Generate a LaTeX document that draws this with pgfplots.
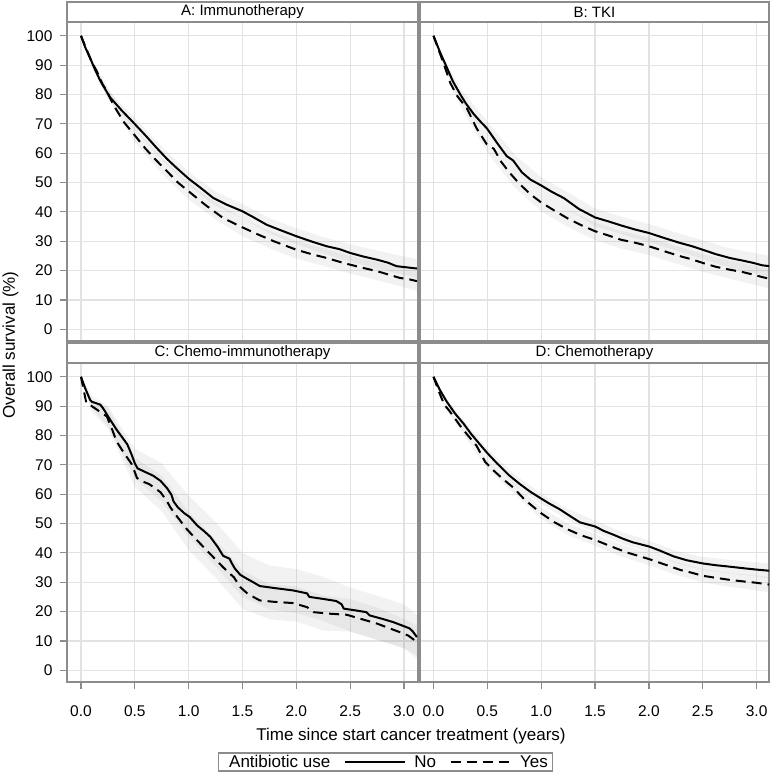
\documentclass[border=0pt]{standalone}
\usepackage{fontspec}
\setmainfont{Liberation Sans}
\usepackage{pgfplots}
\pgfplotsset{compat=1.18}
\definecolor{framec}{HTML}{8C8C8C}
\definecolor{gridc}{HTML}{E2E2E2}
\definecolor{bandc}{HTML}{808080}
\pgfplotsset{
  km/.style={
    scale only axis, height=319pt,
    xmin=-0.13, xmax=3.13, ymin=-4, ymax=104.7,
    xtick={0,0.5,1,1.5,2,2.5,3}, ytick={0,10,20,30,40,50,60,70,80,90,100},
    grid=major, grid style={gridc, line width=1.2pt},
    axis line style={framec, line width=1.2pt},
    tick style={framec, line width=1.2pt},
    tick align=outside, major tick length=7pt,
    xtick pos=bottom, ytick pos=left,
    /pgf/number format/assume math mode=true,
    tick label style={font=\fontsize{15.5}{17}\selectfont},
    xticklabel style={yshift=-13pt, /pgf/number format/fixed, /pgf/number format/fixed zerofill, /pgf/number format/precision=1},
    yticklabel style={xshift=-4pt},
    clip=true,
  },
  band/.style={fill=bandc, fill opacity=0.1, draw=none, forget plot},
  noab/.style={black, line width=2pt, line join=round},
  yesab/.style={black, line width=2pt, line join=round, dash pattern=on 10pt off 6pt},
}
\begin{document}
\begin{tikzpicture}[x=1pt,y=1pt]
\useasboundingbox (0,0) rectangle (771,774);

% ---------------- A: Immunotherapy ----------------
\begin{axis}[km, width=351pt, at={(67pt,433pt)}, anchor=south west,
  xmajorticks=false, xticklabels={}]
\addplot[band] coordinates {(0,100)(0.1,91.5)(0.25,81.5)(0.5,72)(0.75,62.2)(1.0,53.6)(1.25,46.9)(1.5,42.7)(1.75,37.9)(2.0,34.4)(2.25,31.4)(2.5,29)(2.75,26.8)(3.12,23.9)
 (3.12,17.5)(2.75,20.6)(2.5,23)(2.25,25.8)(2.0,29)(1.75,32.7)(1.5,37.7)(1.25,42.1)(1.0,49)(0.75,57.8)(0.5,68)(0.25,78.5)(0.1,89.5)(0,100)} -- cycle;
\addplot[band] coordinates {(0,100)(0.1,92)(0.25,82.3)(0.5,68.3)(0.75,58.3)(1.0,49.8)(1.25,43.2)(1.5,37.7)(1.75,33.6)(2.0,30.1)(2.25,27.6)(2.5,25)(2.75,22.9)(3.12,19.7)
 (3.12,13.1)(2.75,16.7)(2.5,19)(2.25,21.6)(2.0,24.1)(1.75,27.6)(1.5,31.7)(1.25,37.4)(1.0,44.2)(0.75,53.1)(0.5,63.7)(0.25,78.7)(0.1,90)(0,100)} -- cycle;
\addplot[noab] coordinates {(0,100)(0.04,96)(0.084,92.5)(0.13,88.5)(0.18,84.6)(0.27,79)(0.38,74.5)(0.49,70.3)(0.6,66)(0.705,61.7)(0.8,58)(0.89,54.9)(1.0,51.3)(1.1,48.5)(1.23,44.7)(1.35,42.5)(1.5,40.2)(1.6,38.2)(1.725,35.6)(1.85,33.8)(2.0,31.7)(2.15,29.8)(2.28,28.3)(2.4,27.3)(2.5,26.0)(2.62,24.8)(2.75,23.7)(2.85,22.7)(2.93,21.5)(3.0,21.2)(3.12,20.7)};
\addplot[yesab] coordinates {(0,100)(0.05,95.5)(0.1,91)(0.146,88)(0.2,83.5)(0.24,81.2)(0.3,76.5)(0.4,70.5)(0.49,66.5)(0.6,61.5)(0.7,57.5)(0.8,53.8)(0.9,50)(1.0,47.0)(1.15,42.5)(1.32,37.9)(1.5,34.7)(1.65,32.2)(1.79,30.0)(2.0,27.1)(2.15,25.5)(2.28,24.3)(2.4,23)(2.5,22.0)(2.62,20.9)(2.75,19.8)(2.85,18.7)(2.96,17.5)(3.05,17)(3.12,16.4)};
\end{axis}

% ---------------- B: TKI ----------------
\begin{axis}[km, width=349pt, at={(420pt,433pt)}, anchor=south west, xmin=-0.125, xmax=3.115,
  xmajorticks=false, xticklabels={}, ymajorticks=false, yticklabels={}]
\addplot[band] coordinates {(0,100)(0.1,92)(0.25,82)(0.5,70.8)(0.75,59.7)(1.0,51.8)(1.25,46.6)(1.5,41.1)(1.75,38.3)(2.0,35.9)(2.25,33)(2.5,30.3)(2.75,27.6)(3.12,25)
 (3.12,18)(2.75,21)(2.5,23.9)(2.25,26.8)(2.0,29.7)(1.75,32.3)(1.5,35.1)(1.25,40.8)(1.0,46.2)(0.75,54.3)(0.5,65.8)(0.25,78)(0.1,90)(0,100)} -- cycle;
\addplot[band] coordinates {(0,100)(0.1,91)(0.25,80)(0.5,65.4)(0.75,54.5)(1.0,46.2)(1.25,40.8)(1.5,36.4)(1.75,33.4)(2.0,31.3)(2.25,28.4)(2.5,25.6)(2.75,23.4)(3.12,20.5)
 (3.12,13.9)(2.75,17.2)(2.5,19.6)(2.25,22.4)(2.0,25.3)(1.75,27.4)(1.5,30.4)(1.25,34.8)(1.0,40.2)(0.75,48.5)(0.5,60.2)(0.25,76)(0.1,89)(0,100)} -- cycle;
\addplot[noab] coordinates {(0,100)(0.06,94.5)(0.124,89.2)(0.18,84.5)(0.248,80.1)(0.3,77)(0.37,73.5)(0.43,71)(0.495,68.5)(0.6,63)(0.68,59)(0.74,57.5)(0.82,53.5)(0.9,51)(1.0,49)(1.1,46.8)(1.21,44.7)(1.35,41)(1.5,38.1)(1.62,36.8)(1.74,35.4)(1.87,34)(2.0,32.8)(2.15,31)(2.29,29.4)(2.4,28.3)(2.5,27.1)(2.62,25.6)(2.75,24.3)(2.87,23.4)(2.97,22.6)(3.05,21.8)(3.12,21.5)};
\addplot[yesab] coordinates {(0,100)(0.06,94)(0.1,90)(0.155,84)(0.22,79.5)(0.31,75.3)(0.4,68.5)(0.495,63)(0.56,61.5)(0.63,57)(0.71,53.2)(0.8,49.5)(0.9,46)(1.0,43.2)(1.12,40.5)(1.24,37.9)(1.37,35.5)(1.5,33.4)(1.62,32)(1.74,30.5)(1.87,29.5)(2.0,28.3)(2.15,26.5)(2.29,24.9)(2.4,23.8)(2.5,22.6)(2.62,21.3)(2.75,20.3)(2.87,19.5)(2.97,18.6)(3.05,17.8)(3.12,17.2)};
\end{axis}

% ---------------- C: Chemo-immunotherapy ----------------
\begin{axis}[km, width=351pt, at={(67pt,92pt)}, anchor=south west,
  legend columns=3,
  legend image code/.code={\draw[#1] (0pt,0pt) -- (60pt,0pt);},
  legend style={at={(0.9074,-0.2508)}, anchor=center, draw=framec, line width=1.2pt,
    font=\fontsize{17}{19}\selectfont, inner xsep=3pt, inner ysep=0pt,
    /tikz/every odd column/.append style={column sep=6pt},
    /tikz/every even column/.append style={column sep=12pt}},
  ]
\addlegendimage{empty legend}
\addlegendentry{Antibiotic use\hspace{29pt}}
\addplot[band] coordinates {(0,100)(0.1,93.5)(0.25,90)(0.5,75.5)(0.75,70.5)(1.0,59.5)(1.25,50.5)(1.5,40)(1.75,35.7)(2.0,34.5)(2.25,31.8)(2.5,28.2)(2.75,25.4)(3.0,22.5)(3.12,18.8)
 (3.12,4)(3.0,7.5)(2.75,10.4)(2.5,13.2)(2.25,16.8)(2.0,19.5)(1.75,20.7)(1.5,25)(1.25,35.5)(1.0,45.5)(0.75,57.5)(0.5,65.5)(0.25,83)(0.1,89.5)(0,100)} -- cycle;
\addplot[band] coordinates {(0,100)(0.1,92)(0.25,89.5)(0.5,72.5)(0.75,66.2)(1.0,54)(1.25,44.5)(1.5,34)(1.75,29.4)(2.0,28.6)(2.25,25.5)(2.5,24.2)(2.75,21.4)(3.0,17.5)(3.12,15.2)
 (3.12,5.2)(3.0,7.5)(2.75,10.4)(2.5,13.2)(2.25,13.5)(2.0,16.6)(1.75,17.4)(1.5,21)(1.25,31.5)(1.0,41)(0.75,54.2)(0.5,62.5)(0.25,82.5)(0.1,88)(0,100)} -- cycle;
\addplot[noab] coordinates {(0,100)(0.04,96)(0.084,92.2)(0.1,91.5)(0.18,90.5)(0.21,89)(0.26,86)(0.33,82)(0.38,79.5)(0.43,77)(0.47,73.5)(0.5,70.5)(0.525,68.8)(0.6,67.5)(0.67,66.3)(0.74,64.5)(0.8,62)(0.84,59.8)(0.86,57.5)(0.9,55.5)(0.96,53.5)(1.01,52.2)(1.08,49.3)(1.14,47.5)(1.2,45.5)(1.27,42)(1.32,39)(1.38,38)(1.40,36.5)(1.43,34.6)(1.48,32.5)(1.54,31.2)(1.6,30)(1.66,28.7)(1.8,28)(1.97,27.2)(2.1,26.2)(2.12,25)(2.25,24.3)(2.37,23.6)(2.42,22.5)(2.44,21)(2.55,20.4)(2.65,19.8)(2.68,18.7)(2.8,17.5)(2.9,16.4)(3.0,15.0)(3.05,14.3)(3.08,13.3)(3.12,11.3)};
\addlegendentry{No}
\addplot[yesab] coordinates {(0,100)(0.05,91)(0.1,90)(0.18,88)(0.24,86.5)(0.29,82)(0.33,78)(0.4,74)(0.47,70.3)(0.5,67.5)(0.52,65.5)(0.58,64.2)(0.63,63.5)(0.69,62)(0.74,60.6)(0.8,57.5)(0.83,55.5)(0.9,52)(0.98,48.2)(1.06,45)(1.14,41.9)(1.23,38.5)(1.32,35.1)(1.38,33)(1.42,31.7)(1.48,28.3)(1.55,26)(1.66,23.8)(1.8,23.3)(1.97,22.9)(2.1,21.5)(2.16,19.8)(2.3,19.3)(2.47,18.9)(2.6,17.5)(2.75,15.9)(2.85,14.5)(2.96,13.0)(3.04,11.8)(3.10,10.2)(3.12,9.9)};
\addlegendentry{Yes\hspace{7pt}}
\end{axis}

% ---------------- D: Chemotherapy ----------------
\begin{axis}[km, width=349pt, at={(420pt,92pt)}, anchor=south west, xmin=-0.125, xmax=3.115,
  ymajorticks=false, yticklabels={}]
\addplot[band] coordinates {(0,100)(0.1,93.8)(0.25,86.5)(0.5,75.5)(0.75,66.7)(1.0,60.3)(1.25,54.9)(1.5,51)(1.75,47.1)(2.0,44.2)(2.25,40.7)(2.5,38.6)(2.75,37.6)(3.12,36.4)
 (3.12,31.4)(2.75,33)(2.5,34.2)(2.25,36.5)(2.0,40.2)(1.75,43.1)(1.5,47)(1.25,51.1)(1.0,56.7)(0.75,63.3)(0.5,72.5)(0.25,84.1)(0.1,92.2)(0,100)} -- cycle;
\addplot[band] coordinates {(0,100)(0.1,91.3)(0.25,84.5)(0.5,71.9)(0.75,63.8)(1.0,55.4)(1.25,50)(1.5,46.4)(1.75,42.7)(2.0,40)(2.25,36.9)(2.5,34.5)(2.75,33.2)(3.12,31.8)
 (3.12,26.6)(2.75,28.4)(2.5,29.9)(2.25,32.5)(2.0,35.8)(1.75,38.7)(1.5,42.4)(1.25,46)(1.0,51.6)(0.75,60.2)(0.5,68.7)(0.25,81.9)(0.1,89.7)(0,100)} -- cycle;
\addplot[noab] coordinates {(0,100)(0.06,95.5)(0.12,91.7)(0.2,87.5)(0.28,84)(0.35,80.5)(0.43,77)(0.5,74)(0.59,70.5)(0.7,66.5)(0.8,63.5)(0.9,60.8)(1.0,58.5)(1.08,56.7)(1.17,54.9)(1.27,52.5)(1.36,50.4)(1.5,49.0)(1.58,47.5)(1.67,46.2)(1.76,44.8)(1.85,43.6)(2.0,42.2)(2.1,40.8)(2.23,38.8)(2.35,37.5)(2.5,36.4)(2.62,35.8)(2.75,35.3)(2.87,34.8)(3.0,34.3)(3.12,33.9)};
\addplot[yesab] coordinates {(0,100)(0.05,95)(0.1,90.5)(0.15,88.3)(0.25,83.2)(0.32,80)(0.40,76.5)(0.48,71)(0.56,68)(0.65,65)(0.74,62.3)(0.85,58)(1.0,53.5)(1.12,50.5)(1.24,48.1)(1.37,46)(1.5,44.4)(1.65,42.2)(1.79,40.2)(1.9,39)(2.0,37.9)(2.15,36)(2.29,34.2)(2.4,33.2)(2.5,32.2)(2.62,31.5)(2.75,30.8)(2.87,30.3)(3.0,29.8)(3.12,29.2)};
\end{axis}

% ---------------- panel headers ----------------
\begin{scope}[font=\fontsize{15}{17}\selectfont]
\draw[framec, line width=1.2pt, fill=white] (67,752) rectangle (418,772);
\node[black] at (242.5,762) {A: Immunotherapy};
\draw[framec, line width=1.2pt, fill=white] (420,752) rectangle (769,772);
\node[black] at (594.5,762) {B: TKI};
\draw[framec, line width=1.2pt, fill=white] (67,411) rectangle (418,431);
\node[black] at (242.5,421) {C: Chemo-immunotherapy};
\draw[framec, line width=1.2pt, fill=white] (420,411) rectangle (769,431);
\node[black] at (594.5,421) {D: Chemotherapy};
\end{scope}

% ---------------- axis titles ----------------
\node[rotate=90, font=\fontsize{17}{20}\selectfont] at (10.5,429) {Overall survival (\%)};
\node[font=\fontsize{17}{20}\selectfont] at (411,38) {Time since start cancer treatment (years)};
\end{tikzpicture}
\end{document}
